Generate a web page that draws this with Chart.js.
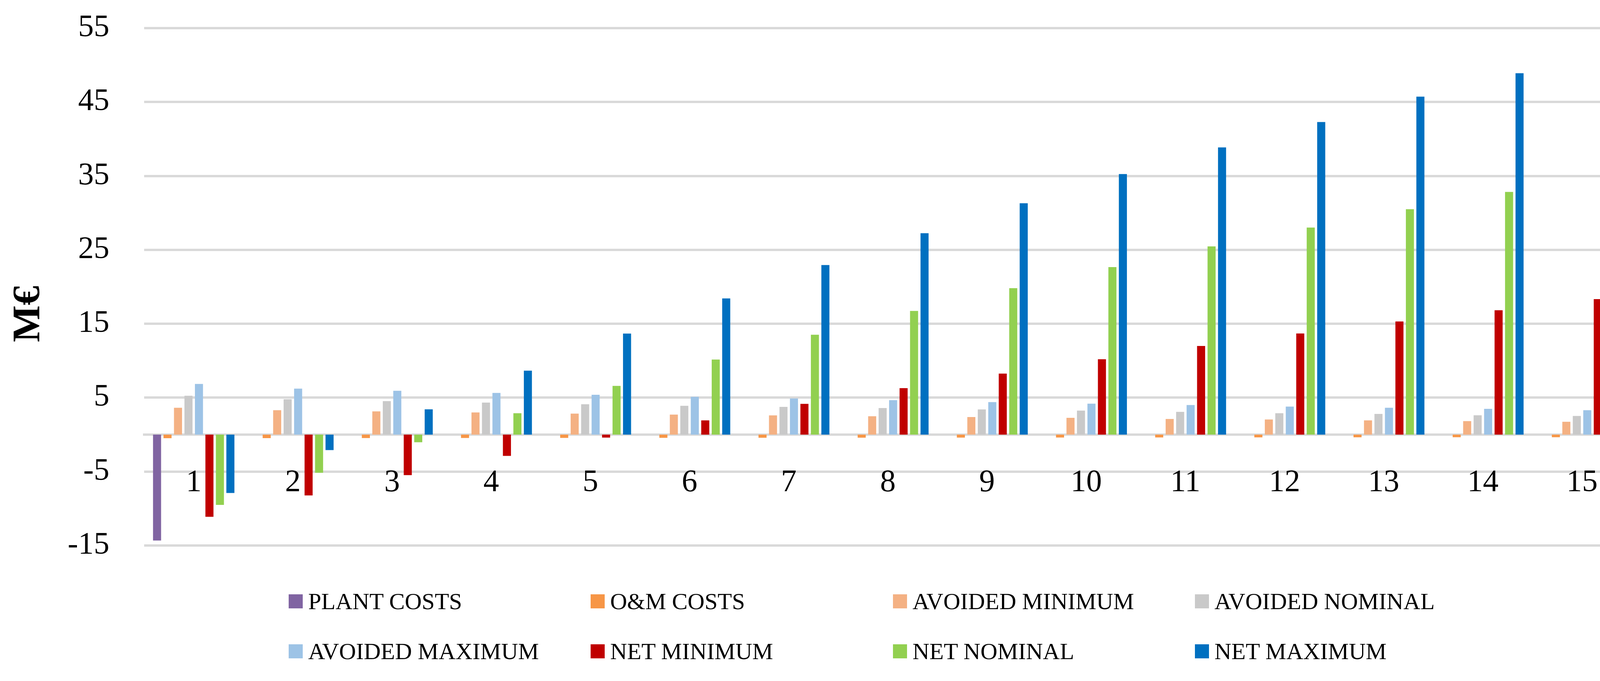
<!DOCTYPE html>
<html>
<head>
<meta charset="utf-8">
<script src="https://cdn.jsdelivr.net/npm/chart.js@4.4.1/dist/chart.umd.min.js"></script>
<style>
  html, body { margin: 0; padding: 0; background: #ffffff; }
  #wrap { position: relative; width: 4244px; height: 1744px; overflow: hidden; }
  #chart { position: absolute; left: 0; top: 0; }
  #legend { position: absolute; left: 0; top: 0; width: 4244px; height: 1744px; pointer-events: none; }
  .lg-item { position: absolute; display: flex; align-items: center; font-family: "Liberation Serif", "Times New Roman", serif; font-size: 60px; line-height: 1; color: #000; white-space: nowrap; }
  .lg-box { width: 36px; height: 36px; margin-right: 14px; flex: none; }
</style>
</head>
<body>
<div id="wrap">
  <canvas id="chart" width="4244" height="1744"></canvas>
  <div id="legend"></div>
</div>
<script>
const categories = ['1','2','3','4','5','6','7','8','9','10','11','12','13','14','15'];
const yTickValues = [-15, -5, 5, 15, 25, 35, 45, 55];
const yAxisTitle = 'M€';

const seriesNames = ['PLANT COSTS','O&M COSTS','AVOIDED MINIMUM','AVOIDED NOMINAL','AVOIDED MAXIMUM','NET MINIMUM','NET NOMINAL','NET MAXIMUM'];
const seriesColors = ['#8064A2','#F79646','#F4B183','#C9C9C9','#9DC3E6','#C00000','#92D050','#0070C0'];

const plantCosts = [-14.33, 0, 0, 0, 0, 0, 0, 0, 0, 0, 0, 0, 0, 0, 0];
const omCosts    = [-0.48, -0.47, -0.46, -0.45, -0.44, -0.43, -0.42, -0.41, -0.40, -0.39, -0.38, -0.37, -0.36, -0.35, -0.35];
const avoidedMin = [3.63, 3.30, 3.15, 3.00, 2.85, 2.71, 2.60, 2.49, 2.38, 2.28, 2.12, 2.05, 1.93, 1.83, 1.74];
const avoidedNom = [5.26, 4.78, 4.54, 4.34, 4.11, 3.90, 3.76, 3.60, 3.41, 3.25, 3.08, 2.90, 2.81, 2.62, 2.52];
const avoidedMax = [6.86, 6.23, 5.93, 5.65, 5.39, 5.12, 4.89, 4.67, 4.40, 4.19, 4.00, 3.79, 3.64, 3.49, 3.30];
const netMin     = [-11.12, -8.22, -5.48, -2.88, -0.40, 1.93, 4.16, 6.29, 8.26, 10.20, 11.99, 13.69, 15.31, 16.83, 18.34];
const netNom     = [-9.51, -5.16, -1.03, 2.89, 6.59, 10.16, 13.51, 16.74, 19.81, 22.67, 25.47, 28.02, 30.50, 32.84, 35.09];
const netMax     = [-7.90, -2.09, 3.43, 8.65, 13.68, 18.43, 22.94, 27.25, 31.31, 35.25, 38.86, 42.30, 45.73, 48.90, 51.88];

const seriesData = [plantCosts, omCosts, avoidedMin, avoidedNom, avoidedMax, netMin, netNom, netMax];

const FONT = '"Liberation Serif", "Times New Roman", serif';
const GRID = '#D9D9D9';

const datasets = seriesNames.map((name, i) => ({
  label: name,
  data: seriesData[i],
  backgroundColor: seriesColors[i],
  borderWidth: 0,
  categoryPercentage: 0.845,
  barPercentage: 0.77
}));

const yTitlePlugin = {
  id: 'yTitle',
  afterDraw(chart) {
    const ctx = chart.ctx;
    ctx.save();
    ctx.translate(74, 804);
    ctx.rotate(-Math.PI / 2);
    ctx.font = 'bold 100px ' + FONT;
    ctx.fillStyle = '#000';
    ctx.textAlign = 'center';
    ctx.textBaseline = 'middle';
    ctx.fillText(yAxisTitle, 0, 0);
    ctx.restore();
  }
};

const chart = new Chart(document.getElementById('chart'), {
  type: 'bar',
  data: { labels: categories, datasets: datasets },
  plugins: [yTitlePlugin],
  options: {
    responsive: false,
    animation: false,
    devicePixelRatio: 1,
    layout: { padding: { left: 0, right: 67, top: 72, bottom: 347 } },
    plugins: {
      legend: { display: false },
      tooltip: { enabled: false },
      title: { display: false }
    },
    scales: {
      x: {
        position: { y: 0 },
        z: 1,
        grid: { display: false, drawTicks: false },
        border: { display: true, color: GRID, width: 6 },
        ticks: {
          color: '#000',
          font: { family: FONT, size: 80 },
          padding: 76,
          maxRotation: 0,
          autoSkip: false
        }
      },
      y: {
        min: -15,
        max: 55,
        afterBuildTicks(scale) {
          scale.ticks = yTickValues.map(v => ({ value: v }));
        },
        afterFit(scale) { scale.width = 369; },
        grid: { color: GRID, lineWidth: 6, drawTicks: true, tickLength: 89, tickColor: 'rgba(0,0,0,0)' },
        border: { display: false },
        ticks: {
          color: '#000',
          font: { family: FONT, size: 80 },
          padding: 0,
          callback: (v) => String(v)
        }
      }
    }
  }
});

// HTML legend built from the chart's datasets, 4 columns x 2 rows
const legendEl = document.getElementById('legend');
const colX = [739, 1512, 2286, 3059];
const rowY = [1540, 1668];
chart.data.datasets.forEach((ds, i) => {
  const item = document.createElement('div');
  item.className = 'lg-item';
  item.style.left = colX[i % 4] + 'px';
  item.style.top = (rowY[Math.floor(i / 4)] - 30) + 'px';
  item.style.height = '60px';
  const box = document.createElement('span');
  box.className = 'lg-box';
  box.style.background = ds.backgroundColor;
  const txt = document.createElement('span');
  txt.textContent = ds.label;
  item.appendChild(box);
  item.appendChild(txt);
  legendEl.appendChild(item);
});
</script>
</body>
</html>
